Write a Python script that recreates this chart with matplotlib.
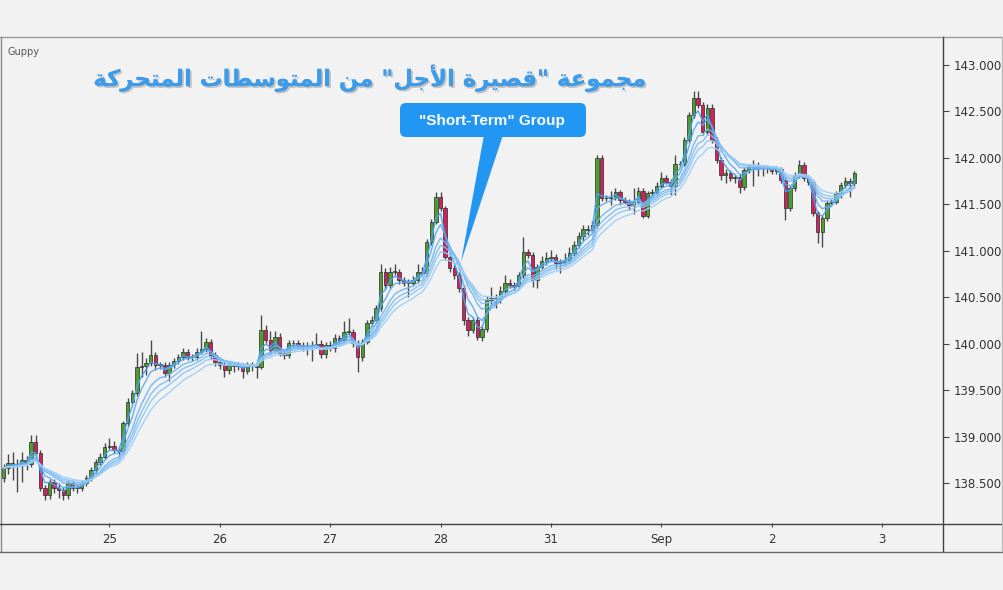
import numpy as np
import pandas as pd
import matplotlib
matplotlib.use("Agg")
import matplotlib.pyplot as plt
from matplotlib.patches import FancyBboxPatch, Polygon
from matplotlib.lines import Line2D
import matplotlib.patheffects as pe

# ---------------- data (hourly candles, USDJPY-like) ----------------
first_open = 138.559
closes = [
    138.667, 138.720, 138.710, 138.699, 138.753, 138.710, 138.949, 138.828, 138.452, 138.376,
    138.516, 138.452, 138.430, 138.376, 138.505, 138.452, 138.452, 138.505, 138.559, 138.645,
    138.734, 138.788, 138.896, 138.903, 138.860, 138.849, 139.147, 139.380, 139.470, 139.756,
    139.763, 139.796, 139.882, 139.774, 139.774, 139.685, 139.774, 139.817, 139.857, 139.917,
    139.857, 139.857, 139.917, 139.943, 140.025, 139.882, 139.810, 139.774, 139.720, 139.774,
    139.763, 139.763, 139.713, 139.774, 139.763, 139.756, 140.151, 140.043, 139.935, 140.078,
    139.900, 139.882, 140.008, 140.008, 139.989, 139.971, 139.965, 139.989, 140.000, 139.892,
    139.989, 139.957, 140.061, 140.043, 140.132, 140.132, 140.008, 139.857, 140.025, 140.223,
    140.258, 140.384, 140.777, 140.634, 140.777, 140.777, 140.688, 140.659, 140.659, 140.688,
    140.777, 140.767, 141.097, 141.315, 141.584, 141.459, 140.939, 140.814, 140.742, 140.599,
    140.258, 140.151, 140.258, 140.078, 140.161, 140.473, 140.495, 140.484, 140.570, 140.653,
    140.634, 140.620, 140.742, 140.992, 140.957, 140.688, 140.831, 140.892, 140.925, 140.935,
    140.871, 140.882, 140.903, 140.978, 141.065, 141.161, 141.237, 141.226, 141.280, 141.997,
    141.567, 141.573, 141.573, 141.631, 141.548, 141.530, 141.495, 141.530, 141.645, 141.380,
    141.620, 141.638, 141.702, 141.782, 141.745, 141.702, 141.932, 141.940, 142.194, 142.462,
    142.642, 142.570, 142.283, 142.541, 142.194, 141.978, 141.817, 141.839, 141.782, 141.799,
    141.691, 141.871, 141.900, 141.906, 141.889, 141.889, 141.889, 141.863, 141.878, 141.763,
    141.459, 141.674, 141.817, 141.925, 141.782, 141.745, 141.405, 141.208, 141.352, 141.513,
    141.530, 141.620, 141.710, 141.756, 141.734, 141.835,
]
upper_wick = [
    0.04, 0.10, 0.12, 0.05, 0.09, 0.04, 0.07, 0.07, 0.03, 0.03,
    0.03, 0.03, 0.05, 0.03, 0.03, 0.03, 0.04, 0.03, 0.03, 0.03,
    0.03, 0.04, 0.04, 0.09, 0.05, 0.03, 0.03, 0.04, 0.03, 0.15,
    0.15, 0.05, 0.16, 0.03, 0.03, 0.03, 0.03, 0.03, 0.03, 0.04,
    0.03, 0.03, 0.04, 0.20, 0.04, 0.03, 0.03, 0.03, 0.03, 0.03,
    0.03, 0.04, 0.03, 0.03, 0.03, 0.03, 0.16, 0.05, 0.10, 0.06,
    0.04, 0.03, 0.04, 0.03, 0.04, 0.03, 0.05, 0.04, 0.12, 0.04,
    0.03, 0.04, 0.05, 0.04, 0.12, 0.15, 0.03, 0.03, 0.03, 0.04,
    0.04, 0.03, 0.08, 0.04, 0.05, 0.08, 0.03, 0.03, 0.04, 0.04,
    0.08, 0.05, 0.03, 0.03, 0.05, 0.05, 0.03, 0.03, 0.03, 0.03,
    0.03, 0.03, 0.03, 0.03, 0.04, 0.04, 0.12, 0.04, 0.05, 0.09,
    0.05, 0.03, 0.03, 0.16, 0.03, 0.03, 0.03, 0.05, 0.06, 0.08,
    0.03, 0.03, 0.07, 0.07, 0.04, 0.04, 0.04, 0.04, 0.04, 0.03,
    0.04, 0.03, 0.07, 0.05, 0.03, 0.03, 0.03, 0.15, 0.04, 0.03,
    0.03, 0.03, 0.04, 0.07, 0.03, 0.03, 0.10, 0.03, 0.03, 0.03,
    0.08, 0.08, 0.03, 0.04, 0.04, 0.03, 0.03, 0.04, 0.03, 0.03,
    0.03, 0.03, 0.04, 0.07, 0.05, 0.04, 0.04, 0.03, 0.04, 0.03,
    0.03, 0.03, 0.03, 0.05, 0.03, 0.03, 0.03, 0.03, 0.03, 0.03,
    0.03, 0.03, 0.03, 0.04, 0.03, 0.03,
]
lower_wick = [
    0.04, 0.07, 0.17, 0.29, 0.18, 0.06, 0.03, 0.03, 0.03, 0.05,
    0.04, 0.05, 0.09, 0.05, 0.04, 0.03, 0.05, 0.03, 0.03, 0.03,
    0.03, 0.03, 0.03, 0.03, 0.03, 0.05, 0.03, 0.03, 0.03, 0.03,
    0.11, 0.10, 0.03, 0.05, 0.04, 0.04, 0.08, 0.03, 0.03, 0.03,
    0.03, 0.04, 0.03, 0.03, 0.03, 0.04, 0.05, 0.04, 0.07, 0.04,
    0.06, 0.04, 0.08, 0.04, 0.05, 0.12, 0.03, 0.03, 0.04, 0.03,
    0.03, 0.04, 0.03, 0.04, 0.04, 0.05, 0.08, 0.15, 0.03, 0.04,
    0.04, 0.03, 0.04, 0.03, 0.03, 0.04, 0.04, 0.16, 0.04, 0.03,
    0.03, 0.03, 0.03, 0.04, 0.03, 0.03, 0.04, 0.04, 0.15, 0.04,
    0.03, 0.03, 0.04, 0.03, 0.03, 0.03, 0.04, 0.04, 0.04, 0.04,
    0.05, 0.07, 0.03, 0.04, 0.05, 0.03, 0.04, 0.10, 0.04, 0.03,
    0.03, 0.04, 0.03, 0.03, 0.03, 0.07, 0.09, 0.03, 0.04, 0.03,
    0.06, 0.11, 0.03, 0.03, 0.03, 0.03, 0.05, 0.05, 0.03, 0.03,
    0.03, 0.03, 0.08, 0.03, 0.05, 0.03, 0.05, 0.10, 0.03, 0.03,
    0.03, 0.03, 0.03, 0.03, 0.03, 0.10, 0.10, 0.03, 0.03, 0.03,
    0.03, 0.03, 0.04, 0.03, 0.03, 0.03, 0.05, 0.09, 0.03, 0.05,
    0.07, 0.03, 0.03, 0.20, 0.08, 0.08, 0.05, 0.03, 0.03, 0.03,
    0.13, 0.03, 0.03, 0.03, 0.03, 0.04, 0.03, 0.12, 0.17, 0.03,
    0.03, 0.03, 0.05, 0.03, 0.15, 0.03,
]
guppy_periods = [3, 5, 8, 10, 12, 15]
tick_positions = [23, 47, 71, 95, 119, 143, 167, 191]
tick_labels = ["25", "26", "27", "28", "31", "Sep", "2", "3"]
price_ticks = [138.5, 139.0, 139.5, 140.0, 140.5, 141.0, 141.5, 142.0, 142.5, 143.0]
title_text = 'مجموعة "قصيرة الأجل" من المتوسطات المتحركة'
callout_text = '"Short-Term" Group'

# ---------------- helpers ----------------
FORMS = {
    'ا': ('\uFE8D', '\uFE8E', None, None),
    'أ': ('\uFE83', '\uFE84', None, None),
    'ة': ('\uFE93', '\uFE94', None, None),
    'ت': ('\uFE95', '\uFE96', '\uFE97', '\uFE98'),
    'ج': ('\uFE9D', '\uFE9E', '\uFE9F', '\uFEA0'),
    'ح': ('\uFEA1', '\uFEA2', '\uFEA3', '\uFEA4'),
    'ر': ('\uFEAD', '\uFEAE', None, None),
    'س': ('\uFEB1', '\uFEB2', '\uFEB3', '\uFEB4'),
    'ص': ('\uFEB9', '\uFEBA', '\uFEBB', '\uFEBC'),
    'ط': ('\uFEC1', '\uFEC2', '\uFEC3', '\uFEC4'),
    'ع': ('\uFEC9', '\uFECA', '\uFECB', '\uFECC'),
    'ق': ('\uFED5', '\uFED6', '\uFED7', '\uFED8'),
    'ك': ('\uFED9', '\uFEDA', '\uFEDB', '\uFEDC'),
    'ل': ('\uFEDD', '\uFEDE', '\uFEDF', '\uFEE0'),
    'م': ('\uFEE1', '\uFEE2', '\uFEE3', '\uFEE4'),
    'ن': ('\uFEE5', '\uFEE6', '\uFEE7', '\uFEE8'),
    'و': ('\uFEED', '\uFEEE', None, None),
    'ي': ('\uFEF1', '\uFEF2', '\uFEF3', '\uFEF4'),
}
LAM_ALEF = {'ا': ('\uFEFB', '\uFEFC'), 'أ': ('\uFEF7', '\uFEF8')}


def shape_arabic(text):
    chars = list(text)
    units = []
    i = 0
    while i < len(chars):
        c = chars[i]
        if c == 'ل' and i + 1 < len(chars) and chars[i + 1] in LAM_ALEF:
            units.append(('LA', chars[i + 1]))
            i += 2
        else:
            units.append(('C', c))
            i += 1

    def is_ar(u):
        return u[0] == 'LA' or u[1] in FORMS

    def joins_next(u):
        return u[0] == 'C' and u[1] in FORMS and FORMS[u[1]][2] is not None

    out = []
    for k, u in enumerate(units):
        prev = units[k - 1] if k > 0 else None
        nxt = units[k + 1] if k + 1 < len(units) else None
        jp = prev is not None and is_ar(u) and joins_next(prev)
        if u[0] == 'LA':
            out.append(LAM_ALEF[u[1]][1 if jp else 0])
            continue
        c = u[1]
        if c not in FORMS:
            out.append(c)
            continue
        jn = nxt is not None and is_ar(nxt) and joins_next(u)
        iso, fin, ini, med = FORMS[c]
        if jp and jn:
            out.append(med)
        elif jp:
            out.append(fin)
        elif jn:
            out.append(ini)
        else:
            out.append(iso)
    return ''.join(reversed(out))


# ---------------- build frame ----------------
close = np.array(closes)
opens = np.r_[first_open, close[:-1]]
high = np.maximum(opens, close) + np.array(upper_wick)
low = np.minimum(opens, close) - np.array(lower_wick)
idx = np.arange(len(close))
cs = pd.Series(close)

BG = '#f2f2f2'
GREEN = '#4c9f2c'
RED = '#d3215e'

W, H = 1004, 590
fig = plt.figure(figsize=(W / 100, H / 100), dpi=100, facecolor=BG)
ax = fig.add_axes([2 / W, 1 - 523 / H, 941 / W, 486 / H], facecolor=BG)

# wicks
ax.vlines(idx, low, high, color='#4a4a4a', linewidth=1.0, zorder=2)
# bodies
up = close >= opens
body_bottom = np.minimum(opens, close)
body_h = np.maximum(np.abs(close - opens), 0.006)
ax.bar(idx[up], body_h[up], bottom=body_bottom[up], width=0.72,
       color=GREEN, edgecolor='#2b2b2b', linewidth=0.5, zorder=3)
ax.bar(idx[~up], body_h[~up], bottom=body_bottom[~up], width=0.72,
       color=RED, edgecolor='#2b2b2b', linewidth=0.5, zorder=3)

# Guppy short-term EMAs
ma_colors = ['#4aa3f0', '#5eadf2', '#6fb6f4', '#80bff6', '#8fc7f7', '#9ecff8']
for p, col in zip(guppy_periods, ma_colors):
    ema = cs.ewm(span=p, adjust=False).mean()
    ax.plot(idx, ema, color=col, linewidth=1.0, alpha=0.95, zorder=4)

ax.set_xlim(-0.33, 204.24)
ax.set_ylim(138.075, 143.301)
for s in ax.spines.values():
    s.set_visible(False)

ax.yaxis.tick_right()
ax.set_yticks(price_ticks)
ax.set_yticklabels([f"{v:.3f}" for v in price_ticks])
ax.tick_params(axis='y', direction='out', length=4, width=0.8, color='#444444',
               pad=4, labelsize=8.5, labelcolor='#333333')
ax.set_xticks(tick_positions)
ax.set_xticklabels(tick_labels)
ax.tick_params(axis='x', direction='out', length=3, width=0.8, color='#444444',
               pad=4, labelsize=8.5, labelcolor='#333333')

# ---------------- overlay (frame, title, callout) ----------------
ov = fig.add_axes([0, 0, 1, 1], zorder=10)
ov.set_xlim(0, W)
ov.set_ylim(H, 0)
ov.axis('off')

ov.add_line(Line2D([0, W], [37, 37], color='#9a9a9a', linewidth=1.0))
ov.add_line(Line2D([1, 1], [37, 551], color='#8a8a8a', linewidth=1.0))
ov.add_line(Line2D([943, 943], [37, 551], color='#444444', linewidth=1.0))
ov.add_line(Line2D([0, W], [523.5, 523.5], color='#444444', linewidth=1.0))
ov.add_line(Line2D([0, W], [551.5, 551.5], color='#666666', linewidth=1.0))
ov.add_line(Line2D([1002.5, 1002.5], [37, 551], color='#bdbdbd', linewidth=1.0))

ov.text(8, 52, "Guppy", fontsize=7, color='#555555', va='center', ha='left',
        family='DejaVu Sans')

ov.text(369, 78, shape_arabic(title_text), fontsize=16.4, fontweight='bold',
        color='#3d9be9', ha='center', va='center', family=['DejaVu Sans'],
        path_effects=[pe.withSimplePatchShadow(offset=(1.3, -1.3),
                                               shadow_rgbFace='#8a8a8a', alpha=0.45),
                      pe.Normal()])

ov.add_patch(Polygon([(484, 135), (503, 135), (461, 262)], closed=True,
                     facecolor='#2196f3', edgecolor='none'))
ov.add_patch(FancyBboxPatch((400, 103), 186, 34,
                            boxstyle='round,pad=0,rounding_size=6',
                            facecolor='#2196f3', edgecolor='none'))
ov.text(492, 120.5, callout_text, color='white', fontsize=11, fontweight='bold',
        family='Liberation Sans', ha='center', va='center')

fig.savefig('out.png', dpi=100, facecolor=BG)
